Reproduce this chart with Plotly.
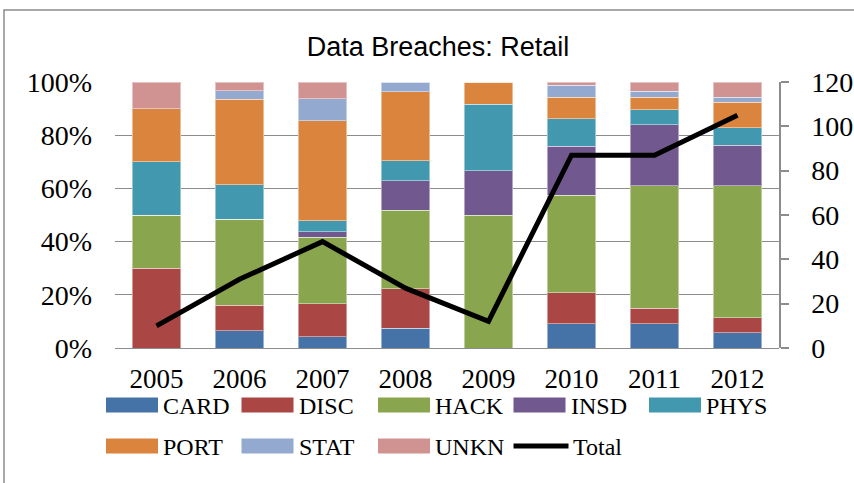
import plotly.graph_objects as go

years = ['2005', '2006', '2007', '2008', '2009', '2010', '2011', '2012']

card = [0, 2, 2, 2, 0, 8, 8, 6]
disc = [3, 3, 6, 4, 0, 10, 5, 6]
hack = [2, 10, 12, 8, 6, 32, 40, 52]
insd = [0, 0, 1, 3, 2, 16, 20, 16]
phys = [2, 4, 2, 2, 3, 9, 5, 7]
port = [2, 10, 18, 7, 1, 7, 4, 10]
stat = [0, 1, 4, 1, 0, 4, 2, 2]
unkn = [1, 1, 3, 0, 0, 1, 3, 6]
total = [10, 31, 48, 27, 12, 87, 87, 105]

series = [
    ('CARD', card, '#4572A7'),
    ('DISC', disc, '#AA4643'),
    ('HACK', hack, '#89A54E'),
    ('INSD', insd, '#71588F'),
    ('PHYS', phys, '#4198AF'),
    ('PORT', port, '#DB843D'),
    ('STAT', stat, '#93A9CF'),
    ('UNKN', unkn, '#D19392'),
]

W, H = 854, 483
L, R, T, B = 115, 75, 82, 135
PW, PH = W - L - R, H - T - B

SERIF = 'Liberation Serif'
GRID = '#8c8c8c'


def px(x):
    return (x - L) / PW


def py(y):
    return (H - B - y) / PH


fig = go.Figure()

for name, vals, color in series:
    fig.add_trace(go.Bar(
        x=years, y=vals, name=name,
        marker=dict(color=color, line=dict(color='rgba(255,255,255,0.45)', width=1)),
        showlegend=False,
    ))

fig.add_trace(go.Scatter(
    x=years, y=total, name='Total', yaxis='y2', mode='lines',
    line=dict(color='black', width=5),
    showlegend=False,
))

# hand-made legend so the swatches look like the original wide blocks
shapes = []
annotations = []
col_x = [106, 241.5, 378, 513.5, 649]
row_y = [405, 446]
entries = [(n, c) for n, _, c in series] + [('Total', 'black')]
for i, (name, color) in enumerate(entries):
    cx = col_x[i % 5]
    cy = row_y[i // 5]
    if name == 'Total':
        shapes.append(dict(type='line', xref='paper', yref='paper',
                           x0=px(cx), x1=px(cx + 55), y0=py(cy), y1=py(cy),
                           line=dict(color='black', width=5)))
        tx = cx + 57
    else:
        shapes.append(dict(type='rect', xref='paper', yref='paper',
                           x0=px(cx), x1=px(cx + 52), y0=py(cy - 7.5), y1=py(cy + 7.5),
                           fillcolor=color, line=dict(width=0)))
        tx = cx + 55
    annotations.append(dict(text=name, xref='paper', yref='paper', x=px(tx), y=py(cy + 1),
                            xanchor='left', yanchor='middle', showarrow=False,
                            font=dict(family=SERIF, size=24, color='black')))

# outer chart border (right and bottom edges fall outside the picture)
shapes.append(dict(type='rect', xref='paper', yref='paper', layer='below',
                   x0=px(4), x1=px(W + 20), y0=py(H + 20), y1=py(10),
                   line=dict(color='#8c8c8c', width=1.5)))

fig.update_layout(
    width=W, height=H,
    margin=dict(l=L, r=R, t=T, b=B, autoexpand=False),
    paper_bgcolor='white', plot_bgcolor='white',
    barmode='stack', barnorm='percent', bargap=0.42,
    title=dict(text='Data Breaches: Retail', x=px(438), xref='paper', xanchor='center',
               y=1 - 47 / H, yref='container', yanchor='middle',
               font=dict(family='Liberation Sans', size=27, color='black')),
    xaxis=dict(showgrid=False, showline=False, ticks='', ticklabelstandoff=12,
               automargin=False,
               tickfont=dict(family=SERIF, size=27, color='black')),
    yaxis=dict(range=[0, 100], dtick=20, ticksuffix='%', showgrid=True,
               gridcolor=GRID, gridwidth=1.3, zeroline=True, zerolinecolor=GRID,
               zerolinewidth=1.3, showline=False, ticks='', ticklabelstandoff=22,
               automargin=False,
               tickfont=dict(family=SERIF, size=28, color='black')),
    yaxis2=dict(range=[0, 120], dtick=20, overlaying='y', side='right',
                showgrid=False, zeroline=False, showline=True, linecolor=GRID,
                linewidth=1.5, ticks='outside', ticklen=8, tickcolor=GRID,
                tickwidth=1.5, ticklabelstandoff=17, automargin=False,
                tickfont=dict(family=SERIF, size=28, color='black')),
    shapes=shapes,
    annotations=annotations,
    showlegend=False,
)

# page has a default 8px body margin; drop it so the chart sits at the window corner
fig.write_html("out.html", config={'displayModeBar': False},
               post_script="document.body.style.margin='0px';")
